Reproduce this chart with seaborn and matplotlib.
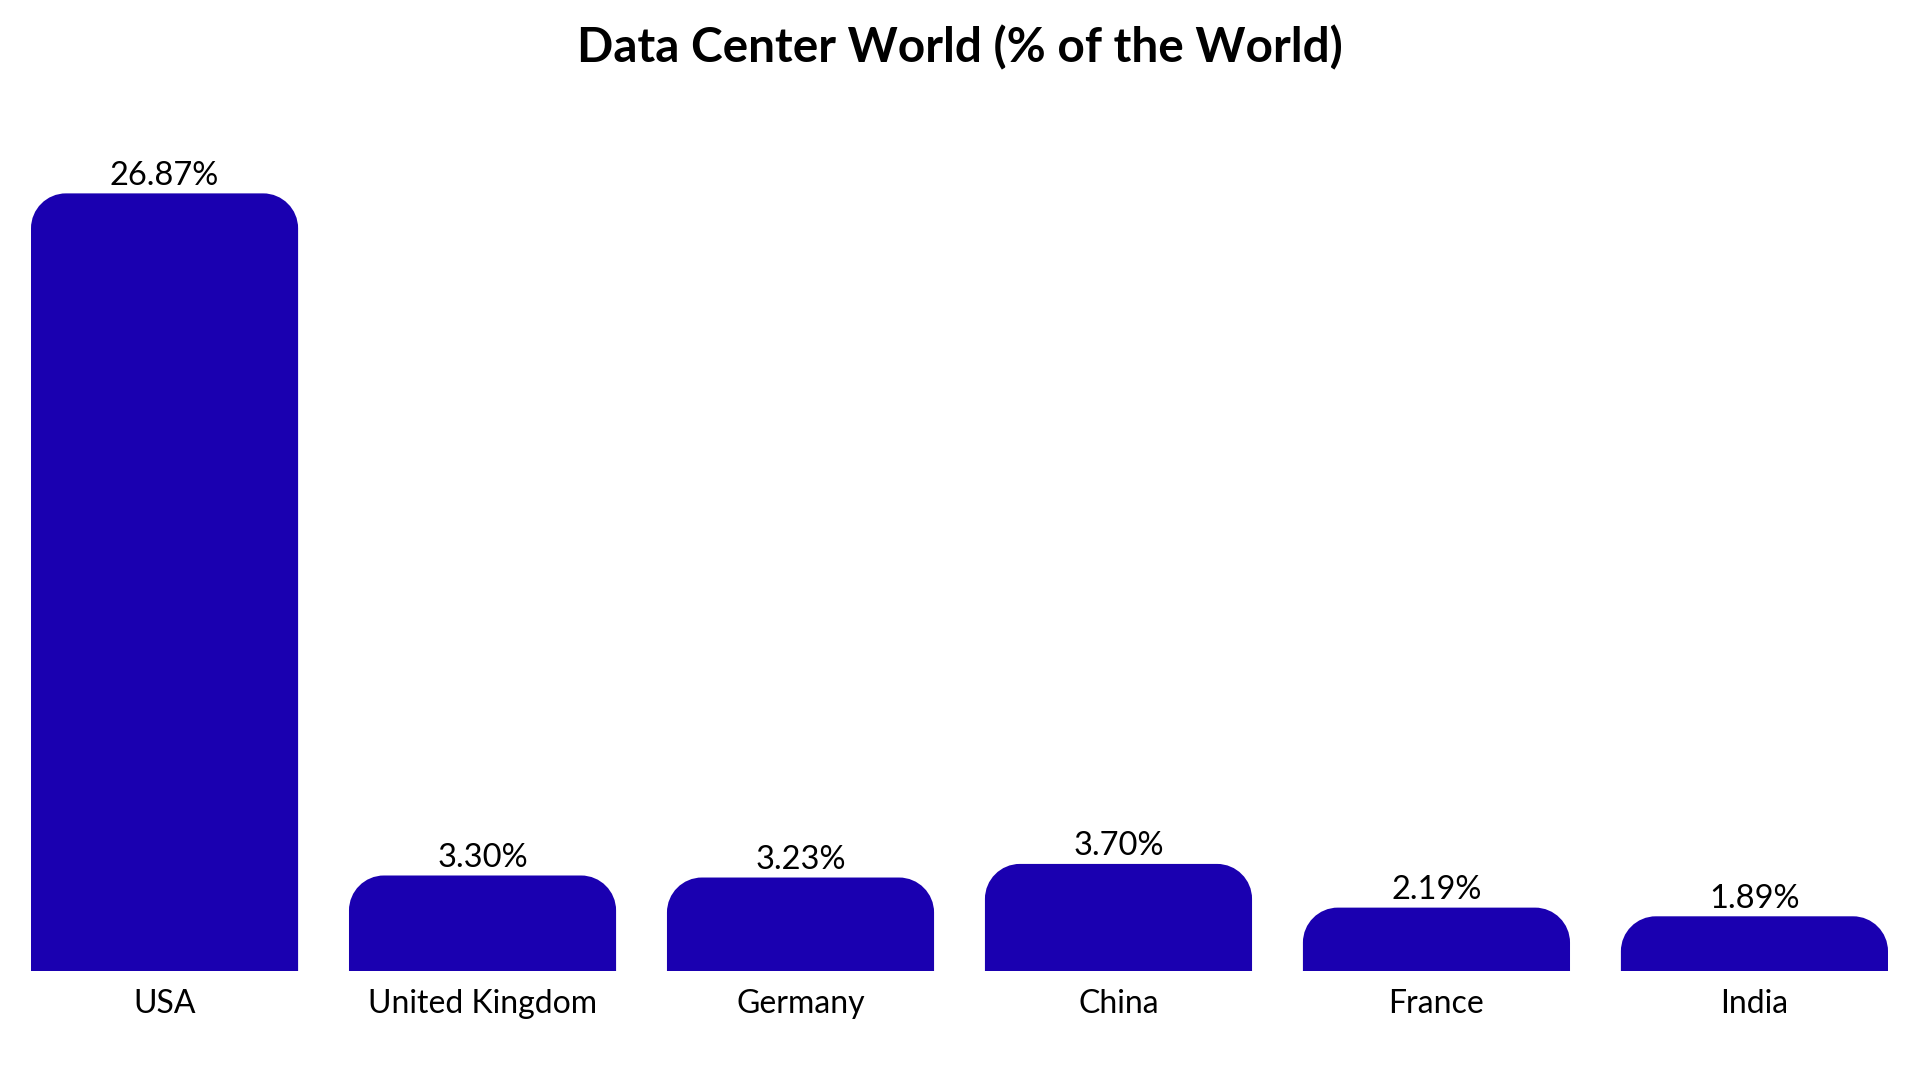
import matplotlib
matplotlib.use("Agg")
import matplotlib.pyplot as plt
import seaborn as sns
import pandas as pd
from matplotlib.path import Path
from matplotlib.patches import PathPatch

countries = ["USA", "United Kingdom", "Germany", "China", "France", "India"]
shares = [26.87, 3.30, 3.23, 3.70, 2.19, 1.89]
labels = ["26.87%", "3.30%", "3.23%", "3.70%", "2.19%", "1.89%"]
title = "Data Center World (% of the World)"
bar_color = "#1A00B0"

sns.set_theme(style="white")
plt.rcParams["font.family"] = ["Lato", "DejaVu Sans"]

df = pd.DataFrame({"country": countries, "share": shares})

fig = plt.figure(figsize=(19.2, 10.8), dpi=100)
ax = fig.add_axes([31 / 1920, 1 - 971 / 1080, (1888 - 31) / 1920, (971 - 150) / 1080])
sns.barplot(data=df, x="country", y="share", color=bar_color, saturation=1,
            width=0.84, ax=ax)
ax.set_xlim(-0.42, len(countries) - 1 + 0.42)
ax.set_ylim(0, (971 - 150) / 28.94)

fig.canvas.draw()
# radius in pixels -> data units
r_px = 35
x_per_px = (ax.get_xlim()[1] - ax.get_xlim()[0]) / ax.bbox.width
y_per_px = (ax.get_ylim()[1] - ax.get_ylim()[0]) / ax.bbox.height
rx = r_px * x_per_px
ry = r_px * y_per_px
k = 0.5523

for p in list(ax.patches):
    x0 = p.get_x()
    w = p.get_width()
    h = p.get_height()
    x1 = x0 + w
    ryy = min(ry, h)
    verts = [
        (x0, 0), (x0, h - ryy),
        (x0, h - ryy + k * ryy), (x0 + rx - k * rx, h), (x0 + rx, h),
        (x1 - rx, h),
        (x1 - rx + k * rx, h), (x1, h - ryy + k * ryy), (x1, h - ryy),
        (x1, 0), (x0, 0),
    ]
    codes = [Path.MOVETO, Path.LINETO,
             Path.CURVE4, Path.CURVE4, Path.CURVE4,
             Path.LINETO,
             Path.CURVE4, Path.CURVE4, Path.CURVE4,
             Path.LINETO, Path.CLOSEPOLY]
    ax.add_patch(PathPatch(Path(verts, codes), facecolor=bar_color,
                           edgecolor="none", linewidth=0))
    p.set_visible(False)

for i, (v, lab) in enumerate(zip(shares, labels)):
    ax.annotate(lab, (i, v), xytext=(0, 2), textcoords="offset points",
                ha="center", va="bottom", fontsize=23.5, color="black")

ax.set_xlabel("")
ax.set_ylabel("")
ax.set_yticks([])
ax.tick_params(axis="x", length=0, pad=13, labelsize=23, labelcolor="black")
for s in ax.spines.values():
    s.set_visible(False)

fig.text(0.5, 1 - 47.5 / 1080, title, ha="center", va="center",
         fontsize=34.4, fontweight="bold", color="black")

fig.savefig("out.png", dpi=100, facecolor="white")
